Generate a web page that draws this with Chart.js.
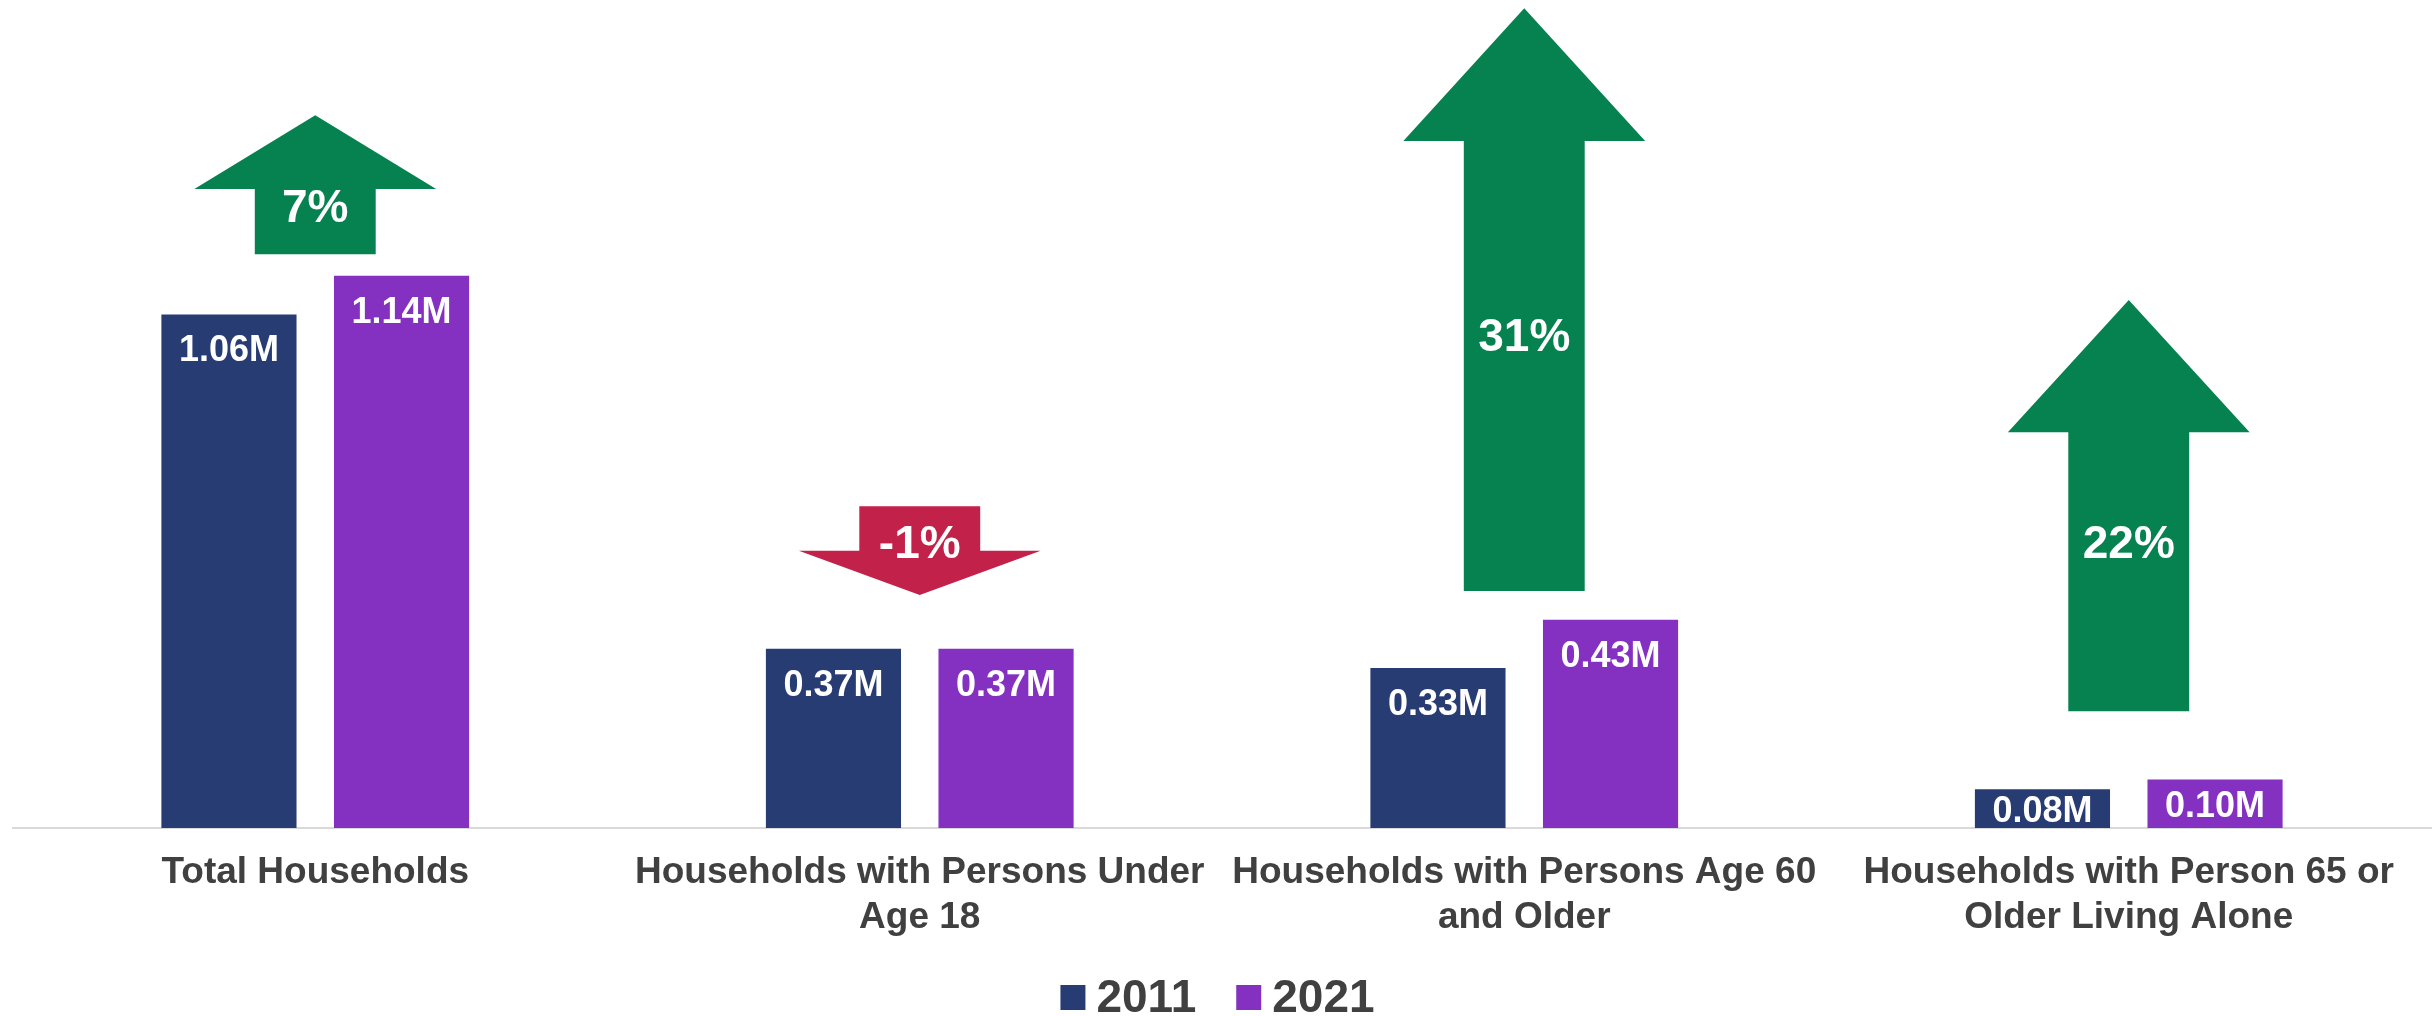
<!DOCTYPE html>
<html>
<head>
<meta charset="utf-8">
<title>Households 2011 vs 2021</title>
<script src="https://cdn.jsdelivr.net/npm/chart.js@4.4.1/dist/chart.umd.min.js"></script>
<style>
    html, body { margin: 0; padding: 0; background: #ffffff; }
    canvas { display: block; }
</style>
</head>
<body>
<canvas id="householdChart" width="2435" height="1016"></canvas>
<script>
var categories = [
    ["Total Households"],
    ["Households with Persons Under", "Age 18"],
    ["Households with Persons Age 60", "and Older"],
    ["Households with Person 65 or", "Older Living Alone"]
];
var seriesNames = ["2011", "2021"];
var households2011 = [1.06, 0.37, 0.33, 0.08];
var households2021 = [1.14, 0.37, 0.43, 0.10];
var valueLabels2011 = ["1.06M", "0.37M", "0.33M", "0.08M"];
var valueLabels2021 = ["1.14M", "0.37M", "0.43M", "0.10M"];

// percent change arrows, extents given in millions on the value axis
var changeLabels = ["7%", "-1%", "31%", "22%"];
var arrowTail = [1.184, 0.664, 0.489, 0.241];
var arrowHeadBase = [1.319, 0.572, 1.418, 0.817];
var arrowTip = [1.471, 0.481, 1.692, 1.090];
var arrowLabelAt = [1.283, 0.590, 1.017, 0.590];

var FONT = "'Liberation Sans', Arial, sans-serif";
var NAVY = "#283C74";
var PURPLE = "#8430C0";
var GREEN = "#068250";
var RED = "#C2224A";
var GREY_TEXT = "#404040";

document.addEventListener("DOMContentLoaded", function() {
    var ctx = document.getElementById("householdChart").getContext("2d");

    var valueLabelPlugin = {
        id: "valueLabels",
        afterDatasetsDraw: function(chart) {
            var c = chart.ctx;
            var labelSets = [valueLabels2011, valueLabels2021];
            c.save();
            c.font = "bold 36px " + FONT;
            c.fillStyle = "#ffffff";
            c.textAlign = "center";
            c.textBaseline = "alphabetic";
            chart.data.datasets.forEach(function(ds, d) {
                chart.getDatasetMeta(d).data.forEach(function(bar, i) {
                    // inside the top of the bar, or centred when the bar is short
                    var y = Math.min(bar.y + 47, (bar.y + bar.base) / 2 + 13);
                    c.fillText(labelSets[d][i], bar.x, y);
                });
            });
            c.restore();
        }
    };

    var arrowPlugin = {
        id: "changeArrows",
        afterDatasetsDraw: function(chart) {
            var c = chart.ctx;
            var xs = chart.scales.x;
            var ys = chart.scales.y;
            var band = xs.width / categories.length;
            var shaft = band * 0.1;
            var head = band * 0.2;
            c.save();
            for (var i = 0; i < changeLabels.length; i++) {
                var cx = xs.getPixelForValue(i);
                var yTail = ys.getPixelForValue(arrowTail[i]);
                var yBase = ys.getPixelForValue(arrowHeadBase[i]);
                var yTip = ys.getPixelForValue(arrowTip[i]);
                c.fillStyle = arrowTip[i] > arrowTail[i] ? GREEN : RED;
                c.beginPath();
                c.moveTo(cx - shaft, yTail);
                c.lineTo(cx - shaft, yBase);
                c.lineTo(cx - head, yBase);
                c.lineTo(cx, yTip);
                c.lineTo(cx + head, yBase);
                c.lineTo(cx + shaft, yBase);
                c.lineTo(cx + shaft, yTail);
                c.closePath();
                c.fill();

                c.fillStyle = "#ffffff";
                c.font = "bold 46px " + FONT;
                c.textAlign = "center";
                c.textBaseline = "alphabetic";
                c.fillText(changeLabels[i], cx, ys.getPixelForValue(arrowLabelAt[i]) + 16);
            }
            c.restore();
        }
    };

    var legendPlugin = {
        id: "bottomLegend",
        afterDraw: function(chart) {
            var c = chart.ctx;
            var colors = [NAVY, PURPLE];
            var box = 25, gap = 11, itemGap = 40;
            c.save();
            c.font = "bold 46px " + FONT;
            var widths = seriesNames.map(function(n) { return c.measureText(n).width; });
            var total = 0;
            widths.forEach(function(w, i) {
                total += box + gap + w + (i > 0 ? itemGap : 0);
            });
            var x = (chart.width - total) / 2;
            var baseline = 1012;
            c.textAlign = "left";
            c.textBaseline = "alphabetic";
            seriesNames.forEach(function(name, i) {
                c.fillStyle = colors[i];
                c.fillRect(x, baseline - 27, box, box);
                c.fillStyle = GREY_TEXT;
                c.fillText(name, x + box + gap, baseline);
                x += box + gap + widths[i] + itemGap;
            });
            c.restore();
        }
    };

    new Chart(ctx, {
        type: "bar",
        data: {
            labels: categories,
            datasets: [{
                label: seriesNames[0],
                data: households2011,
                backgroundColor: NAVY,
                categoryPercentage: 0.571,
                barPercentage: 0.783
            }, {
                label: seriesNames[1],
                data: households2021,
                backgroundColor: PURPLE,
                categoryPercentage: 0.571,
                barPercentage: 0.783
            }]
        },
        options: {
            responsive: false,
            animation: false,
            layout: {
                padding: { left: 13, right: 4, top: 0, bottom: 54 }
            },
            plugins: {
                legend: { display: false },
                tooltip: { enabled: false }
            },
            scales: {
                x: {
                    grid: { display: false, drawTicks: false },
                    border: { color: "#D9D9D9", width: 2 },
                    ticks: {
                        color: GREY_TEXT,
                        font: { family: FONT, size: 37, weight: "bold", lineHeight: "45px" },
                        padding: 22,
                        maxRotation: 0,
                        autoSkip: false
                    }
                },
                y: {
                    display: false,
                    min: 0,
                    max: 1.709
                }
            }
        },
        plugins: [valueLabelPlugin, arrowPlugin, legendPlugin]
    });
});
</script>
</body>
</html>
